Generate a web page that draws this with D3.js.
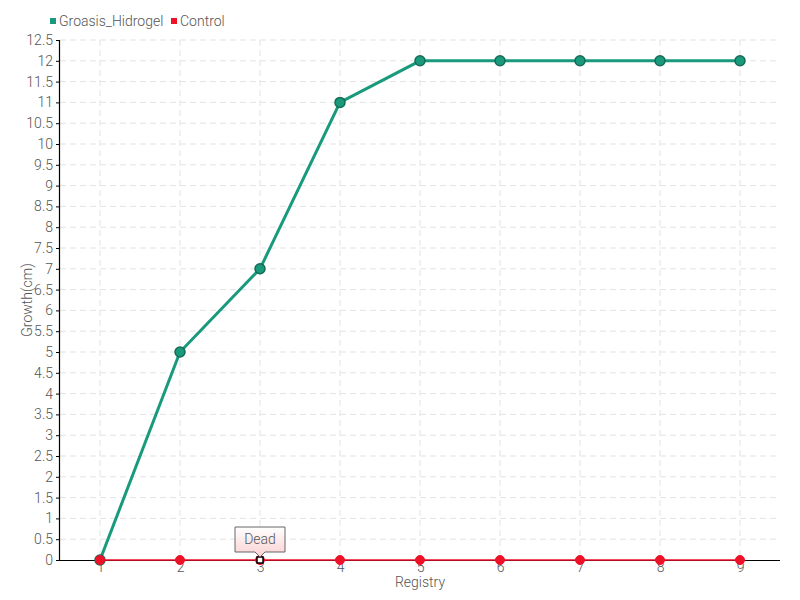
<!DOCTYPE html>
<html><head><meta charset="utf-8">
<script src="https://cdn.jsdelivr.net/npm/d3@7"></script>
<style>
body{margin:0;background:#fff;}
text{font-family:Roboto,"Open Sans",sans-serif;font-weight:300;fill:#555;}
</style></head>
<body><svg id="c" width="800" height="600"></svg>
<script>
const categories = ["1","2","3","4","5","6","7","8","9"];
const groasis = [0,5,7,11,12,12,12,12,12];
const control = [0,0,0,0,0,0,0,0,0];
const seriesNames = ["Groasis_Hidrogel","Control"];
const colors = ["#1a9a7c","#ee1128"];
const yTicks = d3.range(0,12.51,0.5);
const annotation = {index:2, text:"Dead"};

const FONT = 'Roboto,"Open Sans",sans-serif';
const svg = d3.select("#c");
const m = {l:60, r:20, t:40, b:40};
const W = 800, H = 600;
const x = d3.scalePoint().domain(categories).range([m.l, W-m.r]).padding(0.5);
const y = d3.scaleLinear().domain([0,12.5]).range([H-m.b, m.t]);

// grid
svg.append("g").selectAll("line").data(yTicks.slice(1)).join("line")
  .attr("x1",m.l).attr("x2",W-m.r).attr("y1",d=>y(d)).attr("y2",d=>y(d))
  .attr("stroke","#e3e3e3").attr("stroke-dasharray","6,4");
svg.append("g").selectAll("line").data(categories).join("line")
  .attr("x1",d=>x(d)).attr("x2",d=>x(d)).attr("y1",m.t).attr("y2",H-m.b)
  .attr("stroke","#e3e3e3").attr("stroke-dasharray","6,4");

// axes
const yAxis = svg.append("g").attr("transform",`translate(${m.l},0)`)
  .call(d3.axisLeft(y).tickValues(yTicks).tickFormat(d=>d3.format("~g")(d)).tickSize(4).tickPadding(3));
const xAxis = svg.append("g").attr("transform",`translate(0,${H-m.b})`)
  .call(d3.axisBottom(x).tickSize(0).tickPadding(2));
xAxis.select(".domain").attr("d",`M${m.l},0.5H${W-m.r}`);
yAxis.select(".domain").attr("d",`M-0.5,${m.t}V${H-m.b}`);
svg.selectAll(".domain").attr("stroke","#000").attr("stroke-width",1.2);
svg.selectAll(".tick line").attr("stroke","#000");
svg.selectAll(".tick text").attr("font-size",14).attr("fill","#555")
  .style("font-family",FONT).style("font-weight",300);

// axis titles
svg.append("text").attr("x",(m.l+W-m.r)/2).attr("y",587).attr("text-anchor","middle")
  .attr("font-size",14).text("Registry");
svg.append("text").attr("transform",`translate(32,${(m.t+H-m.b)/2}) rotate(-90)`)
  .attr("text-anchor","middle").attr("font-size",14).text("Growth(cm)");

// lines
const line = d3.line().x((d,i)=>x(categories[i])).y(d=>y(d));
svg.append("path").datum(groasis).attr("d",line).attr("fill","none")
  .attr("stroke",colors[0]).attr("stroke-width",3);
svg.append("g").selectAll("circle").data(groasis).join("circle")
  .attr("cx",(d,i)=>x(categories[i])).attr("cy",d=>y(d)).attr("r",5)
  .attr("fill",colors[0]).attr("stroke","#176b55").attr("stroke-width",1.5);

svg.append("path").datum(control).attr("d",line)
  .attr("fill","none").attr("stroke",colors[1]).attr("stroke-width",1.5);
svg.append("g").selectAll("circle").data(control).join("circle")
  .attr("cx",(d,i)=>x(categories[i])).attr("cy",d=>y(d)).attr("r",4.5)
  .attr("fill",colors[1]).attr("stroke",colors[1]);

// hover marker at annotation
const ax = x(categories[annotation.index]), ay = y(control[annotation.index]);
svg.append("rect").attr("x",ax-3).attr("y",ay-3).attr("width",6).attr("height",6)
  .attr("fill","#fff").attr("stroke","#000").attr("stroke-width",1.5);

// tooltip
const defs = svg.append("defs");
const gr = defs.append("linearGradient").attr("id","tg").attr("x1",0).attr("y1",0).attr("x2",0).attr("y2",1);
gr.append("stop").attr("offset","0%").attr("stop-color","#ffffff");
gr.append("stop").attr("offset","100%").attr("stop-color","#fbd0d0");
const tw=50, th=25, tx=ax-25, ty=ay-33;
svg.append("path").attr("d",`M${tx},${ty}H${tx+tw}V${ty+th}H${ax+5}L${ax},${ty+th+5}L${ax-5},${ty+th}H${tx}Z`)
  .attr("fill","url(#tg)").attr("stroke","#666").attr("stroke-width",1);
svg.append("text").attr("x",ax).attr("y",ty+17).attr("text-anchor","middle")
  .attr("font-size",14).text(annotation.text);

// legend
const leg = svg.append("g");
const lx = [50,171];
seriesNames.forEach((n,i)=>{
  leg.append("rect").attr("x",lx[i]).attr("y",18).attr("width",6).attr("height",6).attr("fill",colors[i]);
  leg.append("text").attr("x",lx[i]+9).attr("y",26).attr("font-size",14).text(n);
});
</script></body></html>
